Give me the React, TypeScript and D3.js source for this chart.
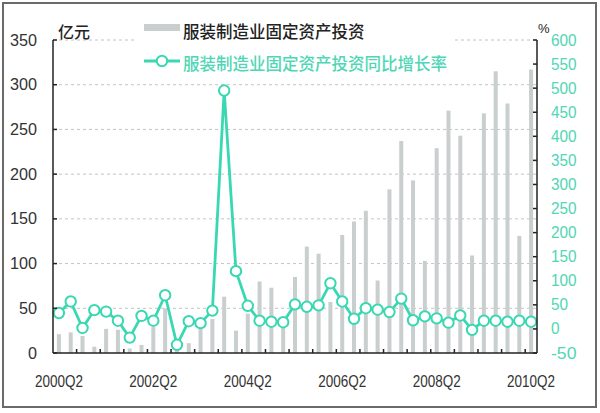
import React from "react";
import * as d3 from "d3";

const quarters = [
  "2000Q2","2000Q3","2000Q4","2001Q1","2001Q2","2001Q3","2001Q4","2002Q1",
  "2002Q2","2002Q3","2002Q4","2003Q1","2003Q2","2003Q3","2003Q4","2004Q1",
  "2004Q2","2004Q3","2004Q4","2005Q1","2005Q2","2005Q3","2005Q4","2006Q1",
  "2006Q2","2006Q3","2006Q4","2007Q1","2007Q2","2007Q3","2007Q4","2008Q1",
  "2008Q2","2008Q3","2008Q4","2009Q1","2009Q2","2009Q3","2009Q4","2010Q1",
  "2010Q2",
];

// 服装制造业固定资产投资 (亿元)
const investment = [
  21, 23, 19, 7, 27, 26, 5, 9,
  29, 50, 7, 11, 28, 38, 63, 25,
  44, 80, 73, 32, 85, 119, 111, 57,
  132, 147, 159, 81, 183, 237, 193, 103,
  229, 271, 243, 109, 268, 315, 279, 131,
  317,
];

// 同比增长率 (%)
const growth = [
  33, 57, 2, 39, 36, 17, -18, 27,
  17, 70, -33, 16, 12, 38, 495, 120,
  48, 17, 15, 14, 51, 46, 49, 95,
  57, 21, 43, 40, 35, 63, 18, 26,
  22, 13, 28, -2, 17, 17, 15, 17,
  15,
];

const xTickLabels = ["2000Q2", "2002Q2", "2004Q2", "2006Q2", "2008Q2", "2010Q2"];
const leftTicks = [0, 50, 100, 150, 200, 250, 300, 350];
const rightTicks = [-50, 0, 50, 100, 150, 200, 250, 300, 350, 400, 450, 500, 550, 600];

const legendBar = "服装制造业固定资产投资";
const legendLine = "服装制造业固定资产投资同比增长率";

const TEAL = "#3ad8b2";
const TEAL_TEXT = "#4fd6b5";
const BAR = "#c9cece";

export default function App() {
  const left = 53, right = 537, top = 40, bottom = 353;
  const x = d3.scaleBand<string>().domain(quarters).range([left, right]).padding(0);
  const yL = d3.scaleLinear().domain([0, 350]).range([bottom, top]);
  const yR = d3.scaleLinear().domain([-50, 600]).range([bottom, top]);
  const cx = (q: string) => (x(q) as number) + x.bandwidth() / 2;

  const line = d3
    .line<number>()
    .x((_, i) => cx(quarters[i]))
    .y((d) => yR(d));

  const bottomTickIdx = d3.range(2, quarters.length, 2);
  const numFont = "'Liberation Sans', Arial, sans-serif";
  const cjkFont = "'Noto Sans CJK SC', sans-serif";

  return (
    <svg
      width={600}
      height={413}
      style={{ position: "absolute", left: 0, top: 0, background: "#fff" }}
    >
      <rect x={3} y={3} width={593} height={404} fill="#fff" stroke="#6a6a6a" strokeWidth={2} />

      {/* gridlines */}
      {leftTicks.filter((t) => t > 0).map((t) => (
        <line
          key={"g" + t}
          x1={left}
          x2={right}
          y1={yL(t)}
          y2={yL(t)}
          stroke="#c4c4c4"
          strokeWidth={1}
          strokeDasharray="3,3"
        />
      ))}

      {/* legend background */}
      <rect x={136} y={10} width={318} height={66} fill="#fff" />

      {/* bars */}
      {investment.map((v, i) => (
        <rect
          key={"b" + i}
          x={cx(quarters[i]) - 2}
          y={yL(v)}
          width={4}
          height={yL(0) - yL(v)}
          fill={BAR}
        />
      ))}

      {/* line */}
      <path d={line(growth) || ""} fill="none" stroke={TEAL} strokeWidth={2.8} strokeLinejoin="round" />
      {growth.map((v, i) => (
        <circle
          key={"c" + i}
          cx={cx(quarters[i])}
          cy={yR(v)}
          r={5.2}
          fill="#fff"
          stroke={TEAL}
          strokeWidth={2}
        />
      ))}

      {/* axes */}
      <line x1={left} x2={left} y1={top} y2={bottom} stroke="#222" strokeWidth={1.5} />
      <line x1={right} x2={right} y1={top} y2={bottom} stroke="#222" strokeWidth={1.5} />
      <line x1={left} x2={right} y1={bottom} y2={bottom} stroke="#222" strokeWidth={1.5} />

      {leftTicks.map((t) => (
        <g key={"lt" + t}>
          <line x1={left} x2={left + 4} y1={yL(t)} y2={yL(t)} stroke="#222" strokeWidth={1.5} />
          <text
            x={37}
            y={yL(t)}
            textAnchor="end"
            dominantBaseline="central"
            fontFamily={numFont}
            fontSize={17}
            fill="#333"
            textLength={String(t).length * 9}
            lengthAdjust="spacingAndGlyphs"
          >
            {t}
          </text>
        </g>
      ))}

      {rightTicks.map((t) => (
        <g key={"rt" + t}>
          <line x1={right - 4} x2={right} y1={yR(t)} y2={yR(t)} stroke="#222" strokeWidth={1.5} />
          <text
            x={551}
            y={yR(t)}
            textAnchor="start"
            dominantBaseline="central"
            fontFamily={numFont}
            fontSize={17}
            fill={TEAL_TEXT}
            textLength={String(t).length * 8.5}
            lengthAdjust="spacingAndGlyphs"
          >
            {t}
          </text>
        </g>
      ))}

      {bottomTickIdx.map((k) => {
        const xx = left + k * x.bandwidth();
        return <line key={"bt" + k} x1={xx} x2={xx} y1={bottom} y2={bottom - 4} stroke="#222" strokeWidth={1.5} />;
      })}

      {xTickLabels.map((q) => (
        <text
          key={"xl" + q}
          x={cx(q)}
          y={381}
          textAnchor="middle"
          dominantBaseline="central"
          fontFamily={numFont}
          fontSize={17}
          fill="#333"
          textLength={48}
          lengthAdjust="spacingAndGlyphs"
        >
          {q}
        </text>
      ))}

      {/* axis titles */}
      <text x={58} y={31} dominantBaseline="central" fontFamily={cjkFont} fontSize={16} fontWeight={500} fill="#222">
        亿元
      </text>
      <text x={538} y={28} dominantBaseline="central" fontFamily={numFont} fontSize={13} fill="#222">
        %
      </text>

      {/* legend */}
      <rect x={144} y={24} width={36} height={7} fill={BAR} />
      <text x={183} y={31} dominantBaseline="central" fontFamily={cjkFont} fontSize={16.5} fontWeight={500} fill="#222">
        {legendBar}
      </text>
      <line x1={144} x2={180} y1={61} y2={61} stroke={TEAL} strokeWidth={2.8} />
      <circle cx={162} cy={61} r={5.2} fill="#fff" stroke={TEAL} strokeWidth={2} />
      <text x={183} y={63} dominantBaseline="central" fontFamily={cjkFont} fontSize={16.5} fontWeight={500} fill={TEAL_TEXT}>
        {legendLine}
      </text>
    </svg>
  );
}
